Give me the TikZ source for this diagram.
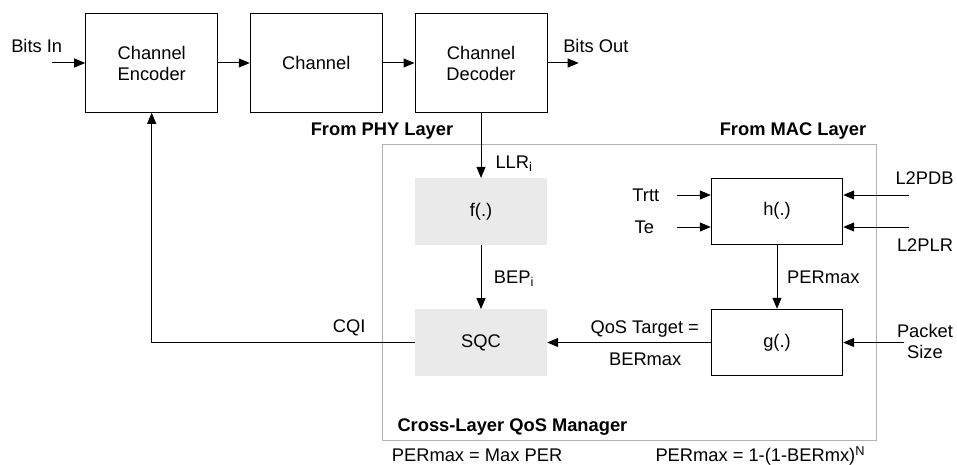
\documentclass[tikz,border=0pt]{standalone}
\usepackage{fontspec}
\setmainfont{Liberation Sans}
\usetikzlibrary{arrows.meta}

\definecolor{mgrgray}{RGB}{178,178,178}
\definecolor{fngray}{RGB}{234,234,234}

\tikzset{
  blk/.style={draw, line width=1pt, minimum width=132pt, minimum height=98.6pt, inner sep=0pt, align=center},
  fnbox/.style={fill=fngray, minimum width=132pt, minimum height=66.4pt, inner sep=0pt},
  mapbox/.style={draw, line width=1pt, minimum width=131.4pt, minimum height=66.4pt, inner sep=0pt},
  lbl/.style={inner sep=0pt, text height=13.1pt, text depth=0pt},
  flow/.style={-{Triangle[length=11pt,width=9pt]}, line width=1pt},
}

\begin{document}
\begin{tikzpicture}[x=1pt, y=-1pt, font=\fontsize{18.3}{21}\selectfont]
\useasboundingbox (0,0) rectangle (957,465);

% PHY chain
\node[blk] (enc) at (151.7,63) {Channel\\Encoder};
\node[blk] (chan) at (316.3,63) {Channel};
\node[blk] (dec) at (481,63) {Channel\\Decoder};

% QoS manager frame
\node[draw=mgrgray, line width=1pt, minimum width=493.7pt, minimum height=295.7pt, inner sep=0pt] (mgr) at (629.15,292.85) {};

% functions
\node[fnbox] (fbox) at (481,211.3) {f(.)};
\node[fnbox] (sqc) at (481,342.5) {SQC};
\node[mapbox] (hbox) at (777,211.2) {h(.)};
\node[mapbox] (gbox) at (777,342.5) {g(.)};

% free ends
\coordinate (bitsin) at (52.3,63);
\coordinate (bitsout) at (578.7,63);
\coordinate (trttin) at (677,195);
\coordinate (tein) at (677,227);
\coordinate (pdbin) at (909.3,195);
\coordinate (plrin) at (909.3,227);
\coordinate (pktin) at (904.3,342.5);

% connectors
\draw[flow] (bitsin) -- (enc.west);
\draw[flow] (enc.east) -- (chan.west);
\draw[flow] (chan.east) -- (dec.west);
\draw[flow] (dec.east) -- (bitsout);
\draw[flow] (dec.south) -- (fbox.north);
\draw[flow] (fbox.south) -- (sqc.north);
\draw[flow] (hbox.south) -- (gbox.north);
\draw[flow] (gbox.west) -- (sqc.east);
\draw[flow] (sqc.west) -| (enc.south);
\draw[flow] (trttin) -- (trttin -| hbox.west);
\draw[flow] (tein) -- (tein -| hbox.west);
\draw[flow] (pdbin) -- (pdbin -| hbox.east);
\draw[flow] (plrin) -- (plrin -| hbox.east);
\draw[flow] (pktin) -- (gbox.east);

% labels
\node[lbl] (lbitsin) at (36.7,45.7) {Bits In};
\node[lbl] (lbitsout) at (595.8,45.7) {Bits Out};
\node[lbl, font=\fontsize{18.3}{21}\selectfont\bfseries] (lphy) at (382,129) {From PHY Layer};
\node[lbl, font=\fontsize{18.3}{21}\selectfont\bfseries] (lmac) at (793,129) {From MAC Layer};
\node[lbl, anchor=west] (lllr) at (495.3,162) {LLR\textsubscript{i}};
\node[lbl, anchor=west] (lbep) at (493.7,276.7) {BEP\textsubscript{i}};
\node[lbl, anchor=west] (lper) at (787,276.7) {PERmax};
\node[lbl] (ltrtt) at (645.8,195) {Trtt};
\node[lbl] (lte) at (644.3,226.7) {Te};
\node[lbl] (lpdb) at (924.5,178.3) {L2PDB};
\node[lbl] (lplr) at (925,245) {L2PLR};
\node[inner sep=0pt, align=center] (lpkt) at (925,341.7) {Packet\\Size};
\node[lbl] (lqos) at (644.7,326.7) {QoS Target =};
\node[lbl] (lber) at (645.2,359.3) {BERmax};
\node[lbl] (lcqi) at (349.2,326) {CQI};
\node[lbl, anchor=west, font=\fontsize{18.3}{21}\selectfont\bfseries] (lmgr) at (397.3,425) {Cross-Layer QoS Manager};
\node[lbl, anchor=west] (ldef) at (391.7,455) {PERmax = Max PER};
\node[lbl, anchor=west] (lform) at (655.3,455) {PERmax = 1-(1-BERmx)\textsuperscript{N}};
\end{tikzpicture}
\end{document}
